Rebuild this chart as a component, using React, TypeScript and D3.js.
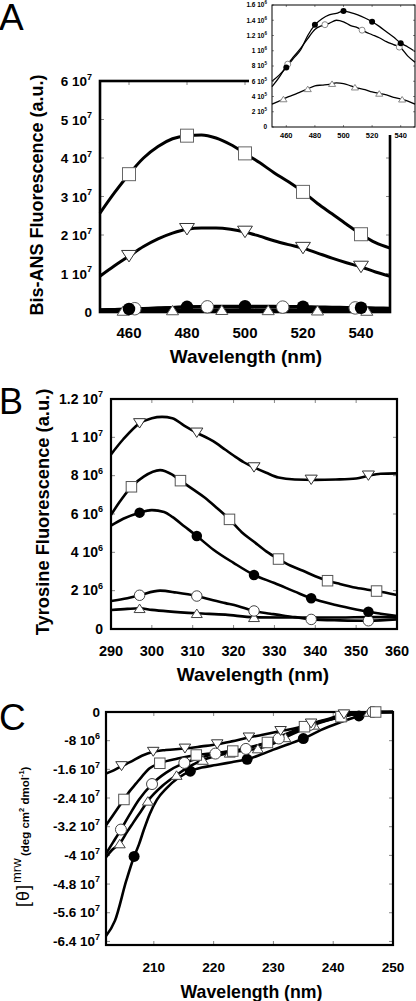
import React from 'react';
import * as d3 from 'd3';

// ---------- Panel A (Bis-ANS), main plot, values in 1e7 units ----------
const aWave = [450, 455, 460, 465, 470, 475, 480, 485, 490, 495, 500, 505, 510, 515, 520, 525, 530, 535, 540, 545, 550];
const aSquare = [2.57, 3.1, 3.58, 4.0, 4.3, 4.5, 4.58, 4.6, 4.52, 4.35, 4.12, 3.88, 3.62, 3.38, 3.12, 2.82, 2.55, 2.28, 2.02, 1.8, 1.66];
const aDown = [0.93, 1.2, 1.45, 1.7, 1.9, 2.05, 2.15, 2.18, 2.18, 2.15, 2.08, 1.97, 1.85, 1.75, 1.66, 1.53, 1.4, 1.28, 1.17, 1.04, 0.93];
const aSquareMarks = [460, 480, 500, 520, 540];
const aDownMarks = [460, 480, 500, 520, 540];
const aFilledMarks = [460, 480, 500, 520, 540];
const aOpenMarks = [462, 487, 513, 538];
const aTriMarks = [458, 475, 492, 508, 525, 542];
const aXTicks = [460, 480, 500, 520, 540];
const aYTicks = [0, 1e7, 2e7, 3e7, 4e7, 5e7, 6e7];

// ---------- Panel A inset, values in 1e6 units ----------
const inFilled = [0.6, 0.68, 0.78, 0.9, 1.01, 1.2, 1.34, 1.42, 1.47, 1.49, 1.52, 1.5, 1.47, 1.43, 1.38, 1.32, 1.25, 1.18, 1.1, 1.05, 0.99];
const inOpen = [0.53, 0.65, 0.8, 0.92, 1.03, 1.16, 1.28, 1.33, 1.36, 1.4, 1.38, 1.33, 1.3, 1.25, 1.21, 1.17, 1.12, 1.08, 1.04, 0.93, 0.85];
const inTri = [0.3, 0.34, 0.385, 0.42, 0.46, 0.5, 0.54, 0.55, 0.56, 0.58, 0.57, 0.54, 0.51, 0.49, 0.46, 0.44, 0.42, 0.39, 0.37, 0.34, 0.3];
const inFilledMarks = [460, 480, 500, 520, 540];
const inOpenMarks = [461, 487, 513, 539];
const inTriMarks = [458, 475, 492, 508, 525, 541];
const inXTicks = [460, 480, 500, 520, 540];
const inYTicks = [0, 2e5, 4e5, 6e5, 8e5, 1e6, 1.2e6, 1.4e6, 1.6e6];

// ---------- Panel B (Tyrosine), values in 1e6 units ----------
const bDownX = [290, 293, 297, 300, 302.5, 305, 308, 311, 315, 318, 320, 322.5, 325, 328, 331, 335, 340, 345, 350, 353, 356, 360];
const bDown = [9.11, 9.9, 10.73, 11.0, 11.07, 11.0, 10.6, 10.24, 9.8, 9.35, 9.05, 8.7, 8.43, 8.15, 7.9, 7.8, 7.78, 7.8, 7.85, 8.0, 8.1, 8.12];
const bSquareX = [290, 292, 295, 298, 302, 305, 307, 310, 313, 316, 319, 322, 325, 328, 331, 334, 337, 340, 343, 346, 350, 355, 360];
const bSquare = [5.95, 6.6, 7.42, 7.95, 8.29, 8.05, 7.74, 7.3, 6.85, 6.3, 5.72, 5.05, 4.55, 4.05, 3.65, 3.3, 3.04, 2.75, 2.52, 2.35, 2.15, 1.98, 1.77];
const bFilledX = [290, 293, 297, 300, 303, 305, 308, 311, 315, 320, 325, 330, 335, 339, 345, 350, 353, 356, 360];
const bFilled = [5.39, 5.75, 6.07, 6.2, 6.1, 5.85, 5.35, 4.85, 4.15, 3.45, 2.82, 2.4, 1.95, 1.6, 1.25, 1.02, 0.9, 0.8, 0.68];
const bOpenX = [290, 294, 297, 302, 306, 311, 315, 318, 321, 325, 329, 332, 335, 339, 346, 353, 360];
const bOpen = [1.46, 1.6, 1.76, 2.0, 1.9, 1.72, 1.5, 1.35, 1.2, 0.94, 0.8, 0.7, 0.62, 0.5, 0.45, 0.43, 0.5];
const bTriX = [290, 294, 297, 300, 304, 311, 318, 325, 332, 339, 346, 353, 360];
const bTri = [0.99, 1.05, 1.08, 1.0, 0.92, 0.82, 0.75, 0.61, 0.6, 0.6, 0.6, 0.62, 0.62];
const bDownMarks = [297, 311, 325, 339, 353];
const bSquareMarks = [295, 307, 319, 331, 343, 355];
const bFilledMarks = [297, 311, 325, 339, 353];
const bOpenMarks = [297, 311, 325, 339, 353];
const bTriMarks = [297, 311, 325];
const bXTicks = [290, 300, 310, 320, 330, 340, 350, 360];
const bYTicks = [0, 2e6, 4e6, 6e6, 8e6, 1e7, 1.2e7];

// ---------- Panel C (CD), values in 1e7 units ----------
const cDownX = [202, 203, 204.6, 206, 208, 209.9, 212, 215.2, 218, 220.6, 223, 225.9, 228, 231.2, 234, 236.3, 239, 241.8, 244, 246, 250];
const cDown = [-1.72, -1.65, -1.51, -1.4, -1.22, -1.11, -1.06, -1.02, -0.96, -0.9, -0.82, -0.71, -0.64, -0.53, -0.44, -0.32, -0.2, -0.065, -0.03, 0, 0];
const cSquareX = [202, 203, 204, 205, 206, 207, 208, 209.3, 211, 214, 217.1, 220, 223.2, 226, 229, 232, 235.2, 238, 241.3, 244, 247.1, 250];
const cSquare = [-3.16, -2.92, -2.68, -2.44, -2.2, -2.0, -1.8, -1.57, -1.43, -1.3, -1.2, -1.15, -1.09, -0.98, -0.85, -0.62, -0.41, -0.26, -0.13, -0.05, 0, 0];
const cOpenX = [202, 203.2, 204.5, 206, 207.5, 209.7, 212, 215.1, 217.7, 220.3, 225.4, 228, 230.9, 233.5, 236.1, 238.5, 241.3, 244, 246.6, 250];
const cOpen = [-3.95, -3.63, -3.28, -2.85, -2.45, -2.01, -1.7, -1.42, -1.28, -1.16, -1.03, -0.9, -0.74, -0.55, -0.36, -0.25, -0.13, -0.05, 0, 0];
const cTriX = [202, 203, 204.3, 205.5, 206.5, 207.8, 209, 211.5, 213.8, 216, 218.2, 220.5, 222.7, 225, 227.4, 230, 232, 234.5, 236.8, 239, 241.5, 244, 246, 250];
const cTri = [-4.05, -3.85, -3.67, -3.35, -3.1, -2.78, -2.48, -2.05, -1.76, -1.52, -1.34, -1.22, -1.14, -1.08, -1.02, -0.88, -0.71, -0.52, -0.36, -0.24, -0.13, -0.05, 0, 0];
const cFilledX = [202, 203.5, 205.4, 206.7, 207.5, 208.3, 209.3, 210.5, 212.1, 214, 216.1, 218, 220.4, 223, 225.6, 228, 230, 232.5, 235, 238, 241, 244.3, 247, 250];
const cFilled = [-6.25, -5.82, -4.7, -4.03, -3.7, -3.3, -2.85, -2.45, -2.13, -1.85, -1.65, -1.55, -1.48, -1.4, -1.32, -1.18, -1.05, -0.9, -0.74, -0.5, -0.3, -0.11, -0.02, 0];
const cDownMarks = [204.6, 209.9, 215.2, 220.6, 225.9, 231.2, 236.3, 241.8];
const cSquareMarks = [205, 211, 217.1, 223.2, 229, 235.2, 241.3, 247.1];
const cOpenMarks = [204.5, 209.7, 215.1, 220.3, 225.4, 230.9, 236.1, 241.3, 246.6];
const cTriMarks = [204.3, 209, 213.8, 218.2, 222.7, 227.4, 232, 236.8, 241.5, 246];
const cFilledMarks = [206.7, 216.1, 225.6, 235, 244.3];
const cXTicks = [210, 220, 230, 240, 250];
const cYTicks = [0, -8e6, -1.6e7, -2.4e7, -3.2e7, -4e7, -4.8e7, -5.6e7, -6.4e7];

const FONT = "'Liberation Sans', Arial, Helvetica, sans-serif";

type Scale = d3.ScaleLinear<number, number>;
type MarkType = 'square' | 'down' | 'up' | 'filled' | 'open';

const interp = (xs: number[], ys: number[], x: number) => {
  const i = Math.max(1, Math.min(xs.length - 1, d3.bisectLeft(xs, x)));
  const t = (x - xs[i - 1]) / (xs[i] - xs[i - 1]);
  return ys[i - 1] + t * (ys[i] - ys[i - 1]);
};

const fmt = (v: number) => {
  if (v === 0) return { m: '0', e: '' };
  const e = Math.floor(Math.log10(Math.abs(v)) + 1e-9);
  const m = +(v / Math.pow(10, e)).toFixed(1);
  return { m: `${m} 10`, e: `${e}` };
};

function Marker({ type, cx, cy, s, stroke }: { type: MarkType; cx: number; cy: number; s: number; stroke: string }) {
  if (type === 'square')
    return <rect x={cx - s / 2} y={cy - s / 2} width={s} height={s} fill="#fff" stroke={stroke} strokeWidth={1} />;
  if (type === 'filled') return <circle cx={cx} cy={cy} r={s / 2} fill="#000" />;
  if (type === 'open') return <circle cx={cx} cy={cy} r={s / 2} fill="#fff" stroke={stroke} strokeWidth={1} />;
  const w = s * 1.1;
  const h = s * 0.85;
  const pts =
    type === 'down'
      ? [[cx - w / 2, cy - h / 2], [cx + w / 2, cy - h / 2], [cx, cy + h / 2]]
      : [[cx - w / 2, cy + h / 2], [cx + w / 2, cy + h / 2], [cx, cy - h / 2]];
  return <polygon points={pts.map((p) => p.join(',')).join(' ')} fill="#fff" stroke={stroke} strokeWidth={1} />;
}

interface Series {
  xs: number[];
  ys: number[];
  unit: number;
  marks: number[];
  type: MarkType;
  size: number;
  stroke: string;
}

function SeriesLines({ series, x, y, lw }: { series: Series[]; x: Scale; y: Scale; lw: number }) {
  return (
    <g>
      {series.map((s, i) => {
        const line = d3
          .line<number>()
          .x((_, j) => x(s.xs[j]))
          .y((v) => y(v * s.unit))
          .curve(d3.curveMonotoneX);
        return <path key={i} d={line(s.ys) || ''} fill="none" stroke="#000" strokeWidth={lw} strokeLinejoin="round" />;
      })}
    </g>
  );
}

function SeriesMarks({ series, x, y }: { series: Series[]; x: Scale; y: Scale }) {
  return (
    <g>
      {series.map((s, i) =>
        s.marks.map((m, k) => (
          <Marker key={`${i}-${k}`} type={s.type} cx={x(m)} cy={y(interp(s.xs, s.ys, m) * s.unit)} s={s.size} stroke={s.stroke} />
        ))
      )}
    </g>
  );
}

function Frame({ x, y, xTicks, yTicks, sw, tl }: { x: Scale; y: Scale; xTicks: number[]; yTicks: number[]; sw: number; tl: number }) {
  const [x0, x1] = x.range();
  const [y0, y1] = y.range(); // y0 bottom, y1 top
  return (
    <g>
      {xTicks.map((t, i) => (
        <g key={'x' + i} stroke="#888" strokeWidth={1}>
          <line x1={x(t)} x2={x(t)} y1={y0} y2={y0 - tl} />
          <line x1={x(t)} x2={x(t)} y1={y1} y2={y1 + tl} />
        </g>
      ))}
      {yTicks.map((t, i) => (
        <g key={'y' + i} stroke="#888" strokeWidth={1}>
          <line x1={x0} x2={x0 + tl} y1={y(t)} y2={y(t)} />
          <line x1={x1} x2={x1 - tl} y1={y(t)} y2={y(t)} />
        </g>
      ))}
      <rect x={x0} y={y1} width={x1 - x0} height={y0 - y1} fill="none" stroke="#000" strokeWidth={sw} />
    </g>
  );
}

function YLabels({ y, ticks, xr, fs, sfs, dyb }: { y: Scale; ticks: number[]; xr: number; fs: number; sfs: number; dyb: number }) {
  return (
    <g fontFamily={FONT} fontWeight="bold" fill="#000">
      {ticks.map((t, i) => {
        const f = fmt(t);
        return (
          <text key={i} x={xr} y={y(t) + dyb} textAnchor="end" fontSize={fs}>
            {f.m}
            {f.e && (
              <tspan fontSize={sfs} dy={-fs * 0.45}>
                {f.e}
              </tspan>
            )}
          </text>
        );
      })}
    </g>
  );
}

function XLabels({ x, ticks, yb, fs }: { x: Scale; ticks: number[]; yb: number; fs: number }) {
  return (
    <g fontFamily={FONT} fontWeight="bold" fill="#000">
      {ticks.map((t, i) => (
        <text key={i} x={x(t)} y={yb} textAnchor="middle" fontSize={fs}>
          {t}
        </text>
      ))}
    </g>
  );
}

export default function App() {
  // Panel A
  const ax = d3.scaleLinear().domain([450, 550]).range([100, 390]);
  const ay = d3.scaleLinear().domain([0, 6e7]).range([312, 81]);
  const aSeries: Series[] = [
    { xs: aWave, ys: aSquare, unit: 1e7, marks: aSquareMarks, type: 'square', size: 13, stroke: '#666' },
    { xs: aWave, ys: aDown, unit: 1e7, marks: aDownMarks, type: 'down', size: 13.5, stroke: '#333' },
    { xs: aWave, ys: inTri, unit: 1e6, marks: aTriMarks, type: 'up', size: 11, stroke: '#555' },
    { xs: aWave, ys: inOpen, unit: 1e6, marks: aOpenMarks, type: 'open', size: 12.5, stroke: '#555' },
    { xs: aWave, ys: inFilled, unit: 1e6, marks: aFilledMarks, type: 'filled', size: 12.5, stroke: '#000' },
  ];
  // Inset
  const ix = d3.scaleLinear().domain([450, 550]).range([272, 415]);
  const iy = d3.scaleLinear().domain([0, 1.6e6]).range([127, 5]);
  const iSeries: Series[] = [
    { xs: aWave, ys: inTri, unit: 1e6, marks: inTriMarks, type: 'up', size: 6.5, stroke: '#888' },
    { xs: aWave, ys: inOpen, unit: 1e6, marks: inOpenMarks, type: 'open', size: 6, stroke: '#888' },
    { xs: aWave, ys: inFilled, unit: 1e6, marks: inFilledMarks, type: 'filled', size: 6, stroke: '#000' },
  ];
  // Panel B
  const bx = d3.scaleLinear().domain([290, 360]).range([111, 397]);
  const by = d3.scaleLinear().domain([0, 1.2e7]).range([629, 399]);
  const bSeries: Series[] = [
    { xs: bTriX, ys: bTri, unit: 1e6, marks: bTriMarks, type: 'up', size: 10, stroke: '#444' },
    { xs: bOpenX, ys: bOpen, unit: 1e6, marks: bOpenMarks, type: 'open', size: 10.5, stroke: '#444' },
    { xs: bFilledX, ys: bFilled, unit: 1e6, marks: bFilledMarks, type: 'filled', size: 10.5, stroke: '#000' },
    { xs: bSquareX, ys: bSquare, unit: 1e6, marks: bSquareMarks, type: 'square', size: 10.5, stroke: '#555' },
    { xs: bDownX, ys: bDown, unit: 1e6, marks: bDownMarks, type: 'down', size: 11, stroke: '#333' },
  ];
  // Panel C
  const cx = d3.scaleLinear().domain([202, 250]).range([106, 393]);
  const cy = d3.scaleLinear().domain([-6.5e7, 0]).range([945, 712]);
  const cSeries: Series[] = [
    { xs: cFilledX, ys: cFilled, unit: 1e7, marks: cFilledMarks, type: 'filled', size: 11, stroke: '#000' },
    { xs: cTriX, ys: cTri, unit: 1e7, marks: cTriMarks, type: 'up', size: 10, stroke: '#444' },
    { xs: cOpenX, ys: cOpen, unit: 1e7, marks: cOpenMarks, type: 'open', size: 11, stroke: '#444' },
    { xs: cSquareX, ys: cSquare, unit: 1e7, marks: cSquareMarks, type: 'square', size: 10.5, stroke: '#555' },
    { xs: cDownX, ys: cDown, unit: 1e7, marks: cDownMarks, type: 'down', size: 10.5, stroke: '#333' },
  ];

  return (
    <svg width={416} height={1001} style={{ position: 'absolute', left: 0, top: 0, background: '#fff' }} fontFamily={FONT}>
      <rect x={0} y={0} width={416} height={1001} fill="#fff" />

      {/* ===== Panel A ===== */}
      <text x={-1} y={30} fontSize={37} fill="#000">A</text>
      <Frame x={ax} y={ay} xTicks={aXTicks} yTicks={aYTicks} sw={2.6} tl={4} />
      <SeriesLines series={aSeries} x={ax} y={ay} lw={3} />
      <SeriesMarks series={aSeries} x={ax} y={ay} />
      <YLabels y={ay} ticks={aYTicks} xr={92} fs={13.5} sfs={9} dyb={5} />
      <XLabels x={ax} ticks={aXTicks} yb={337.5} fs={15} />
      <text transform="translate(43,195) rotate(-90)" textAnchor="middle" fontSize={18} fontWeight="bold">
        Bis-ANS Fluorescence (a.u.)
      </text>
      <text x={246} y={363} textAnchor="middle" fontSize={19} fontWeight="bold">
        Wavelength (nm)
      </text>

      {/* Inset */}
      <rect x={249} y={0} width={167} height={135} fill="#fff" />
      <SeriesLines series={iSeries} x={ix} y={iy} lw={1.3} />
      <SeriesMarks series={iSeries} x={ix} y={iy} />
      <Frame x={ix} y={iy} xTicks={inXTicks} yTicks={inYTicks} sw={1} tl={2} />
      <YLabels y={iy} ticks={inYTicks} xr={267} fs={6.5} sfs={4.5} dyb={2.3} />
      <XLabels x={ix} ticks={inXTicks} yb={138} fs={7.5} />

      {/* ===== Panel B ===== */}
      <text x={-1} y={414} fontSize={36} fill="#000">B</text>
      <Frame x={bx} y={by} xTicks={bXTicks} yTicks={bYTicks} sw={2.2} tl={4} />
      <SeriesLines series={bSeries} x={bx} y={by} lw={2.6} />
      <SeriesMarks series={bSeries} x={bx} y={by} />
      <YLabels y={by} ticks={bYTicks} xr={103} fs={14} sfs={9} dyb={4.5} />
      <XLabels x={bx} ticks={bXTicks} yb={656} fs={14.5} />
      <text transform="translate(48.5,512) rotate(-90)" textAnchor="middle" fontSize={18.3} fontWeight="bold">
        Tyrosine Fluorescence (a.u.)
      </text>
      <text x={253} y={681} textAnchor="middle" fontSize={19} fontWeight="bold">
        Wavelength (nm)
      </text>

      {/* ===== Panel C ===== */}
      <text x={-1} y={730} fontSize={37} fill="#000">C</text>
      <Frame x={cx} y={cy} xTicks={cXTicks} yTicks={cYTicks} sw={2.2} tl={4} />
      <SeriesLines series={cSeries} x={cx} y={cy} lw={2.6} />
      <SeriesMarks series={cSeries} x={cx} y={cy} />
      <YLabels y={cy} ticks={cYTicks} xr={100} fs={13.5} sfs={9} dyb={4.5} />
      <XLabels x={cx} ticks={cXTicks} yb={972} fs={13.6} />
      <g transform="translate(29,907) rotate(-90)">
        <text x={0} y={0} fontSize={18} letterSpacing={1}>[θ]</text>
        <text x={24} y={-8} fontSize={13}>mrw</text>
        <text x={51} y={0} fontSize={11.5} fontWeight="bold">
          (deg cm
          <tspan fontSize={7.5} dy={-5}>2</tspan>
          <tspan dy={5}> dmol</tspan>
          <tspan fontSize={7.5} dy={-5}>-1</tspan>
          <tspan dy={5}>)</tspan>
        </text>
      </g>
      <text x={251.5} y={998} textAnchor="middle" fontSize={17.7} fontWeight="bold">
        Wavelength (nm)
      </text>
    </svg>
  );
}
